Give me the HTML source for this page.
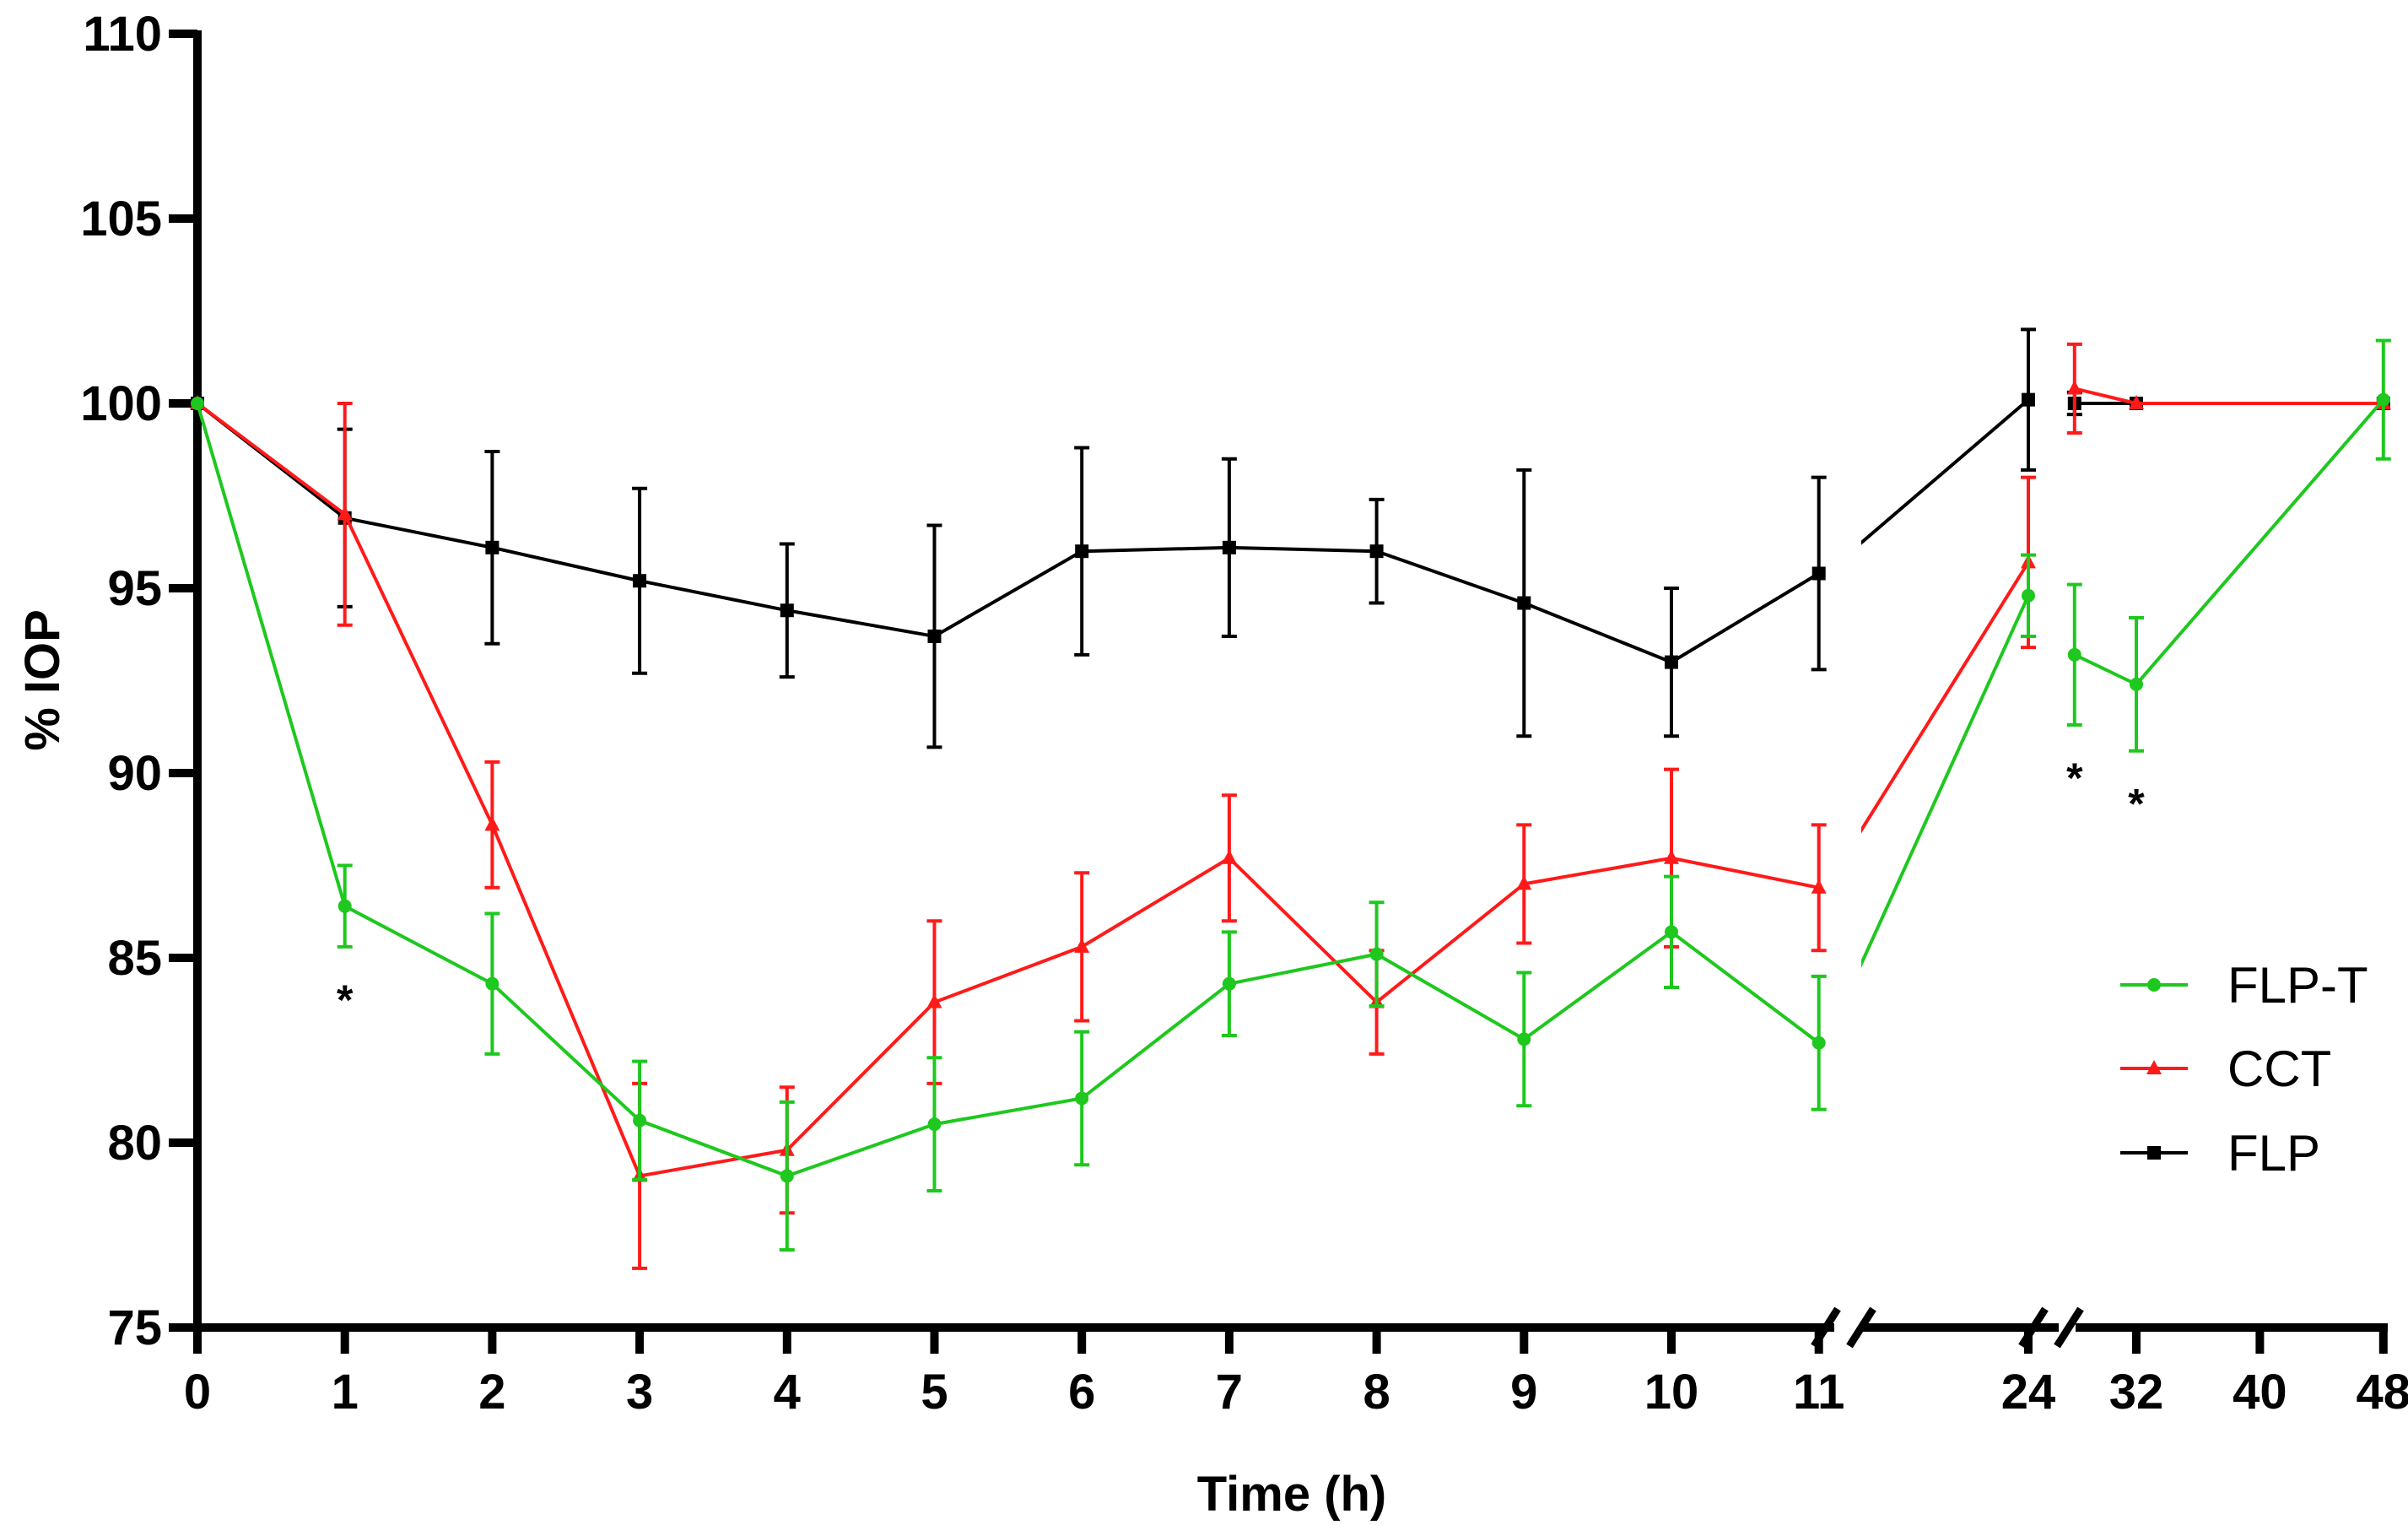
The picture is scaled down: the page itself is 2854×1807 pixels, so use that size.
<!DOCTYPE html>
<html><head><meta charset="utf-8"><style>
body{margin:0;background:#fff}
svg{display:block}
text{font-family:"Liberation Sans Narrow","Liberation Sans",sans-serif}
</style></head><body>
<svg id="chart" width="2854" height="1807" viewBox="0 0 2854 1807" xmlns="http://www.w3.org/2000/svg">
<defs>
<clipPath id="clip2"><rect x="2206" y="0" width="234" height="1807"/></clipPath>
</defs>
<g id="plot"></g>
</svg>
<script>
const hours = [0,1,2,3,4,5,6,7,8,9,10,11,24,28,32,48];
const flpMean = [100,96.9,96.1,95.2,94.4,93.7,96.0,96.1,96.0,94.6,93.0,95.4,100.1,100.0,100.0,100.0];
const flpErr  = [0,2.4,2.6,2.5,1.8,3.0,2.8,2.4,1.4,3.6,2.0,2.6,1.9,0.3,0,0];
const cctMean = [100,97.0,88.6,79.1,79.8,83.8,85.3,87.7,83.8,87.0,87.7,86.9,95.7,100.4,100.0,100.0];
const cctErr  = [0,3.0,1.7,2.5,1.7,2.2,2.0,1.7,1.4,1.6,2.4,1.7,2.3,1.2,0,0];
const flptMean = [100,86.4,84.3,80.6,79.1,80.5,81.2,84.3,85.1,82.8,85.7,82.7,94.8,93.2,92.4,100.1];
const flptErr  = [0,1.1,1.9,1.6,2.0,1.8,1.8,1.4,1.4,1.8,1.5,1.8,1.1,1.9,1.8,1.6];
const yTicks = [75,80,85,90,95,100,105,110];
const xTicks1 = [0,1,2,3,4,5,6,7,8,9,10,11];
const xTicks2 = [24];
const xTicks3 = [32,40,48];
const stars = [[1,'FLP-T'],[28,'FLP-T'],[32,'FLP-T']];

const NS='http://www.w3.org/2000/svg';
const g=document.getElementById('plot');
function yS(v){return 40+(110-v)*43.8;}
function xS(h){
  if(h<=12) return 234+h*174.7;
  if(h<=26) return 2404+(h-24)*18.5;
  return 2532+(h-32)*18.3;
}
function seg(h){return h<=12?1:(h<=26?2:3);}
function el(tag,attrs,parent){const e=document.createElementNS(NS,tag);for(const k in attrs)e.setAttribute(k,attrs[k]);(parent||g).appendChild(e);return e;}

// axes
const AXW=10;
let a=el('line',{x1:234,y1:yS(110)-4,x2:234,y2:yS(75)+AXW/2,stroke:'#000','stroke-width':AXW});


const segsPx=[[229,2174],[2206,2440],[2460,2830]];
segsPx.forEach(s=>{const l=el('line',{x1:s[0],y1:yS(75),x2:s[1],y2:yS(75),stroke:'#000','stroke-width':AXW});

});
// break marks
[2164,2206,2410,2452].forEach(x=>{const l=el('line',{x1:x-14,y1:yS(75)+22,x2:x+14,y2:yS(75)-22,stroke:'#000','stroke-width':9});

});
yTicks.forEach(v=>{
  const t=el('line',{x1:200,y1:yS(v),x2:234,y2:yS(v),stroke:'#000','stroke-width':AXW});
  
  
  const tx=el('text',{x:192,y:yS(v)+20,'text-anchor':'end','font-size':58,'font-weight':'bold'});
  tx.textContent=v;
  
  
});
[...xTicks1,...xTicks2,...xTicks3].forEach(h=>{
  const x=xS(h);
  const t=el('line',{x1:x,y1:yS(75),x2:x,y2:1604,stroke:'#000','stroke-width':AXW});
  
  
  const tx=el('text',{x:x,y:1669,'text-anchor':'middle','font-size':58,'font-weight':'bold'});
  tx.textContent=h;
  
  
});
let yt=el('text',{x:0,y:0,'text-anchor':'middle','font-size':58,'font-weight':'bold',transform:'translate(70,806) rotate(-90)'});
yt.textContent='% IOP';


let xt=el('text',{x:1531,y:1790,'text-anchor':'middle','font-size':58,'font-weight':'bold'});
xt.textContent='Time (h)';



const series=[
 {name:'FLP',mean:flpMean,err:flpErr,color:'#000000',marker:'square'},
 {name:'CCT',mean:cctMean,err:cctErr,color:'#ff1a1a',marker:'triangle'},
 {name:'FLP-T',mean:flptMean,err:flptErr,color:'#1ec81e',marker:'circle'}
];
function marker(m,x,y,c,parent){
  let e;
  if(m==='square') e=el('rect',{x:x-8,y:y-8,width:16,height:16,fill:c},parent);
  else if(m==='triangle') e=el('polygon',{points:`${x},${y-10} ${x+9},${y+7} ${x-9},${y+7}`,fill:c},parent);
  else e=el('circle',{cx:x,cy:y,r:8,fill:c},parent);
  return e;
}
series.forEach(s=>{
  const grp=el('g',{});
  
  
  for(let i=0;i<hours.length-1;i++){
    const h0=hours[i],h1=hours[i+1];
    if(seg(h0)!==seg(h1) && !(h0===11&&h1===24)) continue;
    const l=el('line',{x1:xS(h0),y1:yS(s.mean[i]),x2:xS(h1),y2:yS(s.mean[i+1]),stroke:s.color,'stroke-width':4},grp);
    if(h0===11&&h1===24){
      // 11→24 line crosses the axis break: compute it in a continuous hour scale, show only the right part
      const x0=2404-(24-11)*18.5;
      l.setAttribute('x1',x0);
      l.setAttribute('clip-path','url(#clip2)');
    }
    
    
  }
  hours.forEach((h,i)=>{
    const x=xS(h),e=s.err[i];
    if(e>0){
      const eb=el('path',{d:`M${x},${yS(s.mean[i]+e)}V${yS(s.mean[i]-e)}M${x-9},${yS(s.mean[i]+e)}h18M${x-9},${yS(s.mean[i]-e)}h18`,stroke:s.color,'stroke-width':4,fill:'none'},grp);
      
      
    }
    const m=marker(s.marker,x,yS(s.mean[i]),s.color,grp);
    
    
  });
});
stars.forEach(st=>{
  const i=hours.indexOf(st[0]);
  const s=series.find(q=>q.name===st[1]);
  const y=yS(s.mean[i]-s.err[i])+80;
  const t=el('text',{x:xS(st[0]),y:y,'text-anchor':'middle','font-size':50,'font-weight':'bold'});
  t.textContent='*';
  
  
});
// legend
const legendItems=[['FLP-T','#1ec81e','circle',1167],['CCT','#ff1a1a','triangle',1266],['FLP','#000000','square',1366]];
legendItems.forEach(it=>{
  const lg=el('g',{});
  
  
  el('line',{x1:2513,y1:it[3],x2:2593,y2:it[3],stroke:it[1],'stroke-width':4},lg);
  marker(it[2],2553,it[3],it[1],lg);
  const t=el('text',{x:2640,y:it[3]+21,'font-size':60,'font-family':'Liberation Sans, sans-serif'},lg);
  t.textContent=it[0];
});
</script>
</body></html>
